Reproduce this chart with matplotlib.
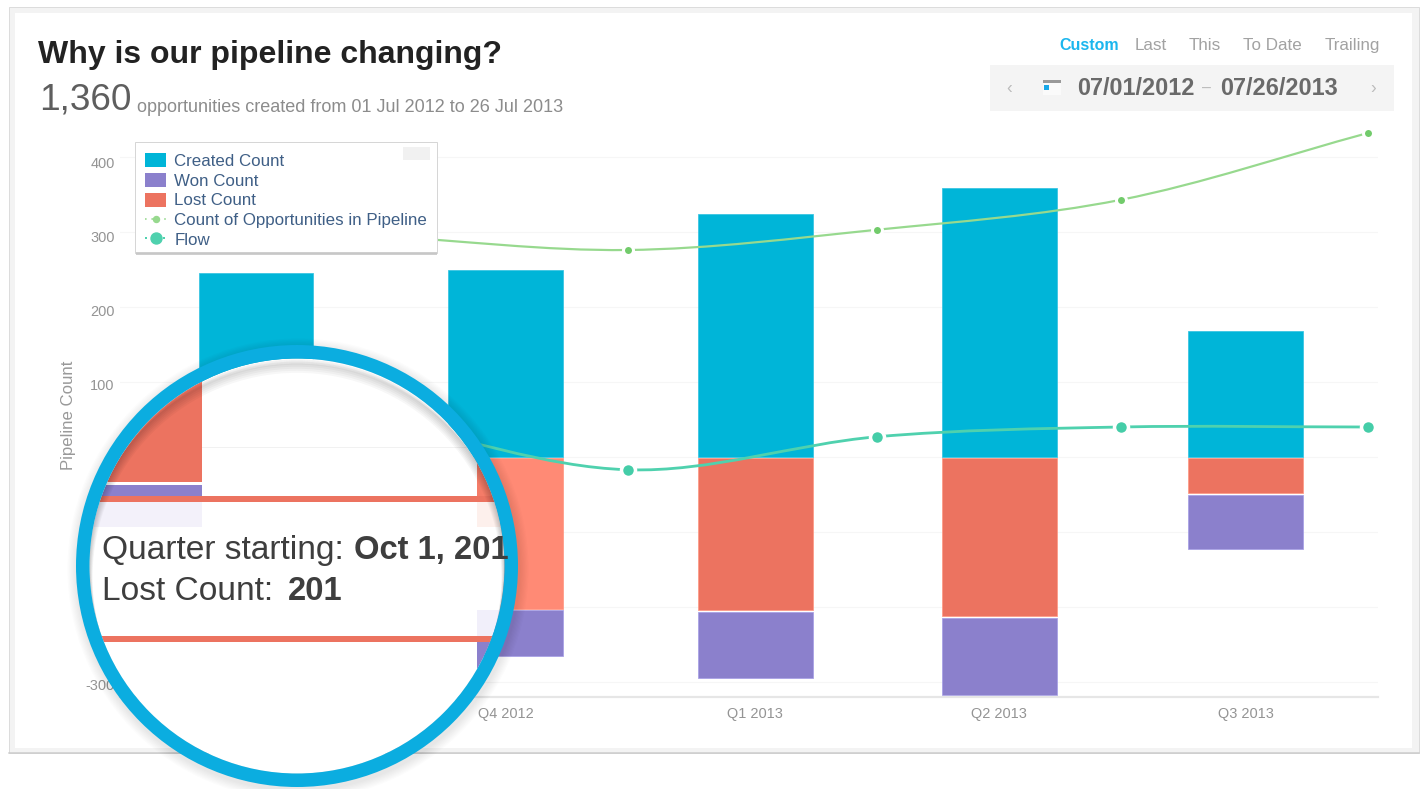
import matplotlib
matplotlib.use("Agg")
import matplotlib.pyplot as plt
import matplotlib.dates as mdates
import numpy as np
from matplotlib.patches import Rectangle, Circle, Patch
from matplotlib.path import Path
from matplotlib.patches import PathPatch
from matplotlib.lines import Line2D
from matplotlib.transforms import ScaledTranslation

# ---- data ----
quarter_starts = ["2012-07-01", "2012-10-01", "2013-01-01", "2013-04-01", "2013-07-01"]
quarter_labels = ["Q3 2012", "Q4 2012", "Q1 2013", "Q2 2013", "Q3 2013"]
created_count = [245, 249, 324, 359, 168]
lost_count = [130, 201, 203, 211, 47]
won_count = [75, 61, 88, 103, 73]
line_dates = ["2012-08-15", "2012-11-15", "2013-02-15", "2013-05-16", "2013-08-15"]
pipeline_count = [295, 276, 303, 343, 432]
flow = [49, -17, 27, 40, 40]
y_ticks = [-300, -200, -100, 0, 100, 200, 300, 400]
y_tick_labels = ["-300", "", "", "", "100", "200", "300", "400"]
range_tabs = ["Custom", "Last", "This", "To Date", "Trailing"]

plt.rcParams["font.family"] = ["Liberation Sans", "DejaVu Sans"]
W, H = 1424, 789
DPI = 100
PT = 72 / DPI
BLUE, PURPLE, RED = "#00B5D8", "#8B80CC", "#EC7360"
RED_HI = "#FF8A75"
GREEN, TEAL = "#97D98E", "#4FD1AE"

fig = plt.figure(figsize=(W / DPI, H / DPI), dpi=DPI, facecolor="white")

def pixel_axes(z):
    a = fig.add_axes([0, 0, 1, 1], zorder=z)
    a.set_xlim(0, W)
    a.set_ylim(H, 0)
    a.axis("off")
    a.patch.set_alpha(0)
    return a

# ---- card ----
bg = pixel_axes(0)
bg.add_patch(Rectangle((9, 7), 1410, 746, fc="#F3F3F3", ec="#DCDCDC", lw=1 * PT))
bg.add_patch(Rectangle((15, 13), 1397, 735, fc="white", ec="none"))
bg.plot([9, 1419], [752.5, 752.5], color="#CCCCCC", lw=1.5 * PT)

# ---- chart ----
x0, x1, ytop, ybot = 120, 1378, 125.5, 697
ax = fig.add_axes([x0 / W, 1 - ybot / H, (x1 - x0) / W, (ybot - ytop) / H], zorder=1)
ax.patch.set_alpha(0)
q = mdates.date2num(np.array(quarter_starts, dtype="datetime64[D]"))
ld = mdates.date2num(np.array(line_dates, dtype="datetime64[D]"))
created = np.array(created_count, float)
lost = np.array(lost_count, float)
won = np.array(won_count, float)
bar_w = 42.4
gap = 3.0

ax.bar(q, created, width=bar_w, color=BLUE, edgecolor="#38C4E2", linewidth=0.8 * PT, zorder=2)
lost_colors = [RED, RED_HI, RED, RED, RED]
ax.bar(q, -lost, width=bar_w, bottom=-1, color=lost_colors, edgecolor="#FF9A86", linewidth=0.8 * PT, zorder=2)
ax.bar(q, -won, width=bar_w, bottom=-lost - gap, color=PURPLE, edgecolor="#A8A0E6", linewidth=0.8 * PT, zorder=2)


def smooth_line(x, y, color, marker_color, lw, ms, mew):
    """Draw a smooth curve through the data points only, with Bezier segments."""
    x, y = np.asarray(x, float), np.asarray(y, float)
    tx, ty = np.gradient(x), np.gradient(y)
    verts, codes = [(x[0], y[0])], [Path.MOVETO]
    for i in range(len(x) - 1):
        verts += [(x[i] + tx[i] / 3, y[i] + ty[i] / 3),
                  (x[i + 1] - tx[i + 1] / 3, y[i + 1] - ty[i + 1] / 3),
                  (x[i + 1], y[i + 1])]
        codes += [Path.CURVE4] * 3
    ax.add_patch(PathPatch(Path(verts, codes), fc="none", ec=color, lw=lw * PT, zorder=3, clip_on=False))
    ax.plot(x, y, ls="none", marker="o", ms=ms * PT, mfc=marker_color, mec="white", mew=mew * PT, zorder=4, clip_on=False)


smooth_line(ld, pipeline_count, GREEN, "#72CB6B", 2.2, 10, 3.0)
smooth_line(ld, flow, TEAL, "#45CDA8", 2.8, 14, 3.5)

px_per_day = 2.712
ax.set_xlim(q[0] - (256 - x0) / px_per_day, q[0] + (x1 - 256) / px_per_day)
ax.set_ylim(-320, (457 - ytop) / 0.75)
ax.set_xticks(q, quarter_labels)
ax.set_yticks(y_ticks, y_tick_labels)
ax.grid(axis="y", color="#F6F6F6", lw=1.2 * PT, zorder=0)
ax.set_axisbelow(True)
for s in ("top", "left", "right"):
    ax.spines[s].set_visible(False)
ax.spines["bottom"].set_color("#E6E6E6")
ax.spines["bottom"].set_linewidth(2.2 * PT)
ax.tick_params(axis="both", length=0, labelsize=14.5 * PT, labelcolor="#949494")
ax.tick_params(axis="x", pad=7)
ax.tick_params(axis="y", pad=4)
for lab, off in zip(ax.get_yticklabels(), [2, 2, 2, 2, 3, 4, 5, 6]):
    lab.set_transform(lab.get_transform() + ScaledTranslation(0, -off / DPI, fig.dpi_scale_trans))
ax.set_ylabel("Pipeline Count", fontsize=16.8 * PT, color="#999999")
ax.yaxis.set_label_coords((76 - x0) / (x1 - x0), (ybot - 415) / (ybot - ytop))

# ---- legend ----
ax.add_patch(Rectangle((135 / W, 1 - 253 / H), 302 / W, 111 / H, transform=fig.transFigure,
                       fc="white", ec="#D6D6D6", lw=1 * PT, zorder=5.5, clip_on=False))
handles = [
    Patch(fc=BLUE, ec="none", label="Created Count"),
    Patch(fc=PURPLE, ec="none", label="Won Count"),
    Patch(fc=RED, ec="none", label="Lost Count"),
    Line2D([], [], color=GREEN, ls=(0, (1, 3)), lw=1.6 * PT, marker="o", ms=6 * PT, label="Count of Opportunities in Pipeline"),
    Line2D([], [], color=TEAL, ls=(0, (1, 2)), lw=2 * PT, marker="o", ms=11 * PT, label="Flow"),
]
leg = ax.legend(handles=handles, loc="upper left",
                bbox_to_anchor=(135 / W, 1 - 143 / H), bbox_transform=fig.transFigure,
                fontsize=16.9 * PT, frameon=False, borderaxespad=0, borderpad=0.6,
                handlelength=1.25, handleheight=0.9, handletextpad=0.47, labelspacing=0.23)
leg.set_zorder(6)
for t in leg.get_texts():
    t.set_color("#3F5F86")

# ---- overlay: headings, controls, lens ----
ov = pixel_axes(3)
ov.add_patch(Rectangle((136, 252), 301, 2.5, fc="#C4C4C4", ec="none", alpha=0.8))
ov.add_patch(Rectangle((403, 147), 27, 13, fc="#F1F1F1", ec="none"))

ov.text(38, 55, "Why is our pipeline changing?", fontsize=32 * PT, fontweight="bold", color="#222222", va="center", ha="left")
ov.text(39, 100, "1,360", fontsize=37 * PT, color="#5E5E5E", va="center", ha="left")
ov.text(137, 107, "opportunities created from 01 Jul 2012 to 26 Jul 2013", fontsize=18 * PT, color="#8C8C8C", va="center", ha="left")

tab_x = [1059, 1135, 1189, 1243, 1325]
for i, (label, tx) in enumerate(zip(range_tabs, tab_x)):
    ov.text(tx, 45.5, label, fontsize=(16 if i == 0 else 17) * PT, color="#1BB6EE" if i == 0 else "#A2A2A2",
            fontweight="bold" if i == 0 else "normal", va="center", ha="left")
ov.add_patch(Rectangle((990, 65), 404, 46, fc="#F4F4F4", ec="none"))
ov.text(1009, 88, "\u2039", fontsize=17 * PT, color="#BBBBBB", va="center", ha="center")
ov.text(1373, 88, "\u203a", fontsize=17 * PT, color="#BBBBBB", va="center", ha="center")
ov.text(1077, 88, "07/01/2012", fontsize=23.5 * PT, fontweight="bold", color="#6A6A6A", va="center", ha="left")
ov.text(1207, 88, "\u2013", fontsize=16 * PT, color="#BBBBBB", va="center", ha="center")
ov.text(1220, 88, "07/26/2013", fontsize=23.5 * PT, fontweight="bold", color="#6A6A6A", va="center", ha="left")
ov.add_patch(Rectangle((1043, 80), 18, 15, fc="#FAFAFA", ec="none"))
ov.add_patch(Rectangle((1043, 80), 18, 2.5, fc="#9A9A9A", ec="none"))
ov.add_patch(Rectangle((1044, 85), 5, 5, fc="#18A8E8", ec="none"))

# lens
cx, cy, r_out, r_in = 297, 566, 221, 207.5
for k in range(1, 9):  # soft shadow outside the ring
    ov.add_patch(Circle((cx + 1, cy + 3), r_out + k * 1.2, fc="#000000", ec="none", alpha=0.012, clip_on=False))
lens = Circle((cx, cy), r_in, fc="white", ec="none")
ov.add_patch(lens)


def lens_rect(x, y, w, h, color):
    p = Rectangle((x, y), w, h, fc=color, ec="none")
    ov.add_patch(p)
    p.set_clip_path(lens)


lens_rect(60, 345, 142, 137, RED)
lens_rect(60, 485, 142, 11, PURPLE)
lens_rect(60, 502, 142, 25, "#F3F1FA")
lens_rect(202, 446.5, 275, 1.5, "#F1F1F1")
lens_rect(477, 457, 50, 39, "#F47C68")
lens_rect(477, 502, 50, 25, "#FDF0EC")
lens_rect(477, 610, 50, 26, "#F1EFFA")
lens_rect(477, 642, 50, 38, PURPLE)
lens_rect(60, 496, 470, 6, RED)
lens_rect(60, 636, 470, 6, RED)

for (tx, ty, s, w) in [(102, 549, "Quarter starting:", "normal"), (354, 549, "Oct 1, 201", "bold"),
                       (102, 591, "Lost Count:", "normal"), (288, 591, "201", "bold")]:
    fs = 33.5 if w == "normal" else 32.8
    t = ov.text(tx, ty + 1, s, fontsize=fs * PT, fontweight=w, color="#3E3E3E", va="center", ha="left", clip_on=True)
    t.set_clip_path(lens)

for k in range(1, 8):  # inner shadow at the top of the lens
    p = Circle((cx, cy + k * 1.6), r_in + k * 0.2, fc="none", ec="#000000", lw=k * 1.3 * PT, alpha=0.03)
    ov.add_patch(p)
    p.set_clip_path(lens)

ov.add_patch(Circle((cx, cy), (r_out + r_in) / 2, fc="none", ec="#0BADE0", lw=(r_out - r_in) * PT, clip_on=False))

fig.savefig("out.png", dpi=DPI, facecolor="white")
